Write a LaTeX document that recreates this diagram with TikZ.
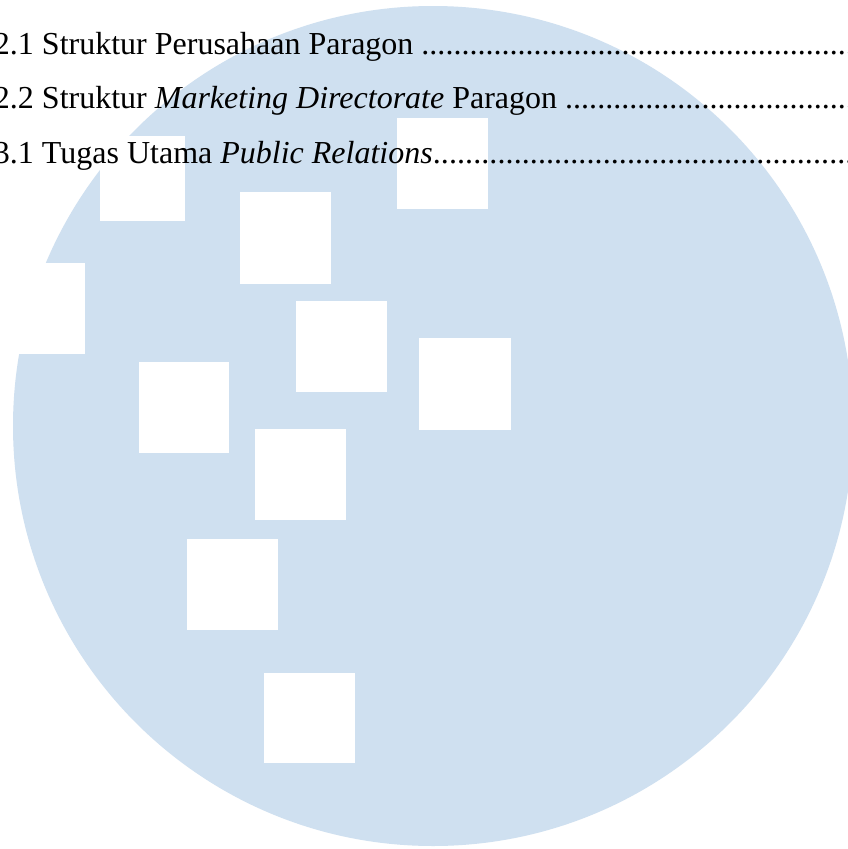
\documentclass[tikz,border=0pt]{standalone}
\usepackage{fontspec}
\setmainfont{Liberation Serif}
\definecolor{wmblue}{RGB}{207,224,240}
\tikzset{
  hole/.style={fill=white, draw=none},
  tocline/.style={anchor=base west, inner sep=0pt, outer sep=0pt, font=\fontsize{32}{38}\selectfont}
}
\newcommand{\tocdots}{\xleaders\hbox{.}\hfill}
\begin{document}
\begin{tikzpicture}[x=1pt,y=-1pt]
\useasboundingbox (0,0) rectangle (848,849);
\fill[white] (0,0) rectangle (848,849);
% watermark disc
\fill[wmblue] (433,426) circle[radius=420];
% white squares
\fill[hole] (-2,263) rectangle (85,354);
\fill[hole] (100,136) rectangle (185,221);
\fill[hole] (240,192) rectangle (331,284);
\fill[hole] (397,118) rectangle (488,209);
\fill[hole] (296,301) rectangle (387,392);
\fill[hole] (139,362) rectangle (229,453);
\fill[hole] (419,338) rectangle (511,430);
\fill[hole] (255,429) rectangle (346,520);
\fill[hole] (187,539) rectangle (278,630);
\fill[hole] (264,673) rectangle (355,763);
% list entries
\node[tocline] (l1) at (-6,54) {\hbox to 900pt{2.1 Struktur Perusahaan Paragon \tocdots}};
\node[tocline] (l2) at (-6,108) {\hbox to 900pt{2.2 Struktur \textit{Marketing Directorate} Paragon \tocdots}};
\node[tocline] (l3) at (-6,163) {\hbox to 900pt{3.1 Tugas Utama \textit{Public Relations}\tocdots}};
\end{tikzpicture}
\end{document}
